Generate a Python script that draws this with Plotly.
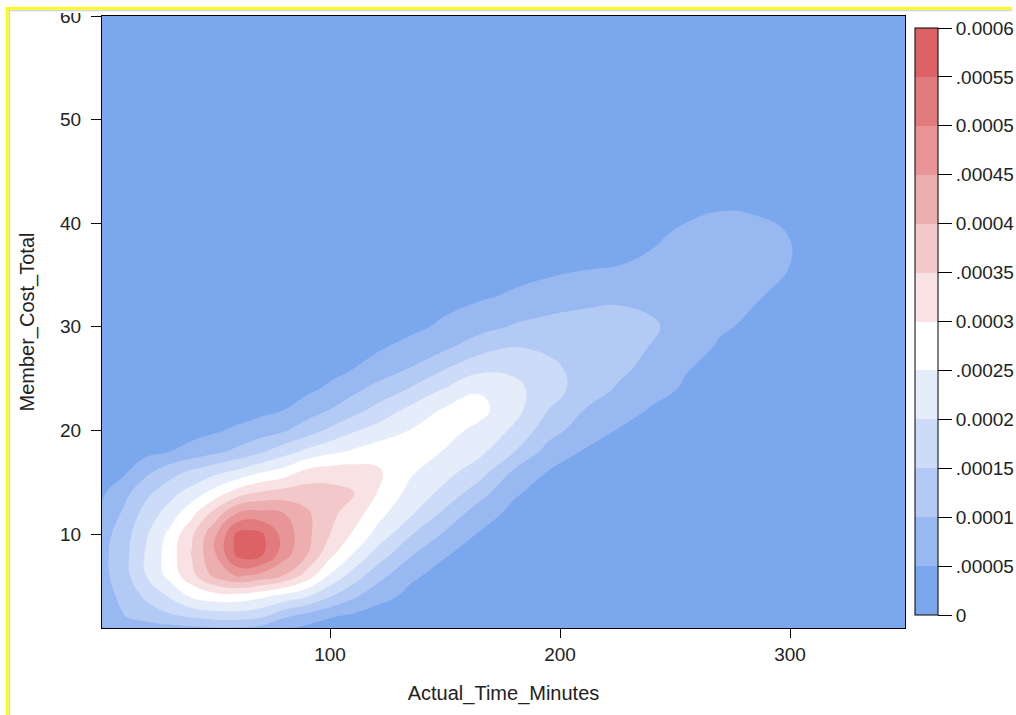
import numpy as np
import plotly.graph_objects as go

# ---- data (kernel density surface) ----
actual_time_minutes = [0, 10, 20, 30, 40, 50, 60, 70, 80, 90, 100, 110, 120, 135, 150,
                       165, 180, 195, 210, 225, 240, 255, 270, 285, 300, 320, 360]
member_cost_total = [0, 2, 4, 6, 8, 10, 12, 14, 16, 18, 20, 22, 24, 26, 28, 30, 33, 36,
                     39, 42, 46, 61]

# density values in units of 1e-5, one row per member_cost_total value
density_1e5 = [
    [3, 3.3, 3.5, 3.5, 3.5, 3.3, 3, 2.3, 1.5, 1, 0.7, 0.5, 0.4, 0.3, 0.25, 0.2, 0.2, 0.15, 0.15, 0.1, 0.1, 0.1, 0.1, 0.1, 0.1, 0.1, 0.1],
    [6.5, 9.7, 11.8, 13.8, 15.4, 16.8, 17, 15.5, 10.5, 7.5, 5.3, 3.8, 2.6, 1.7, 1.2, 0.8, 0.6, 0.5, 0.4, 0.3, 0.2, 0.2, 0.2, 0.1, 0.1, 0.1, 0.1],
    [7.5, 11.2, 16, 20.3, 25.8, 27.8, 28, 26, 23.3, 20.5, 15.4, 11, 7, 3.8, 2.3, 1.5, 1, 0.8, 0.6, 0.5, 0.4, 0.3, 0.2, 0.2, 0.2, 0.1, 0.1],
    [8, 12.8, 20, 26.5, 33.5, 41.5, 45.8, 43.5, 39.8, 32.8, 24.4, 18, 12.3, 5.8, 3.5, 2.3, 1.6, 1.2, 0.9, 0.7, 0.5, 0.4, 0.3, 0.2, 0.2, 0.2, 0.1],
    [8.2, 13, 20.5, 27.2, 35.4, 44.5, 56.5, 56, 47.1, 40, 31.3, 24.6, 18.2, 10.5, 5.3, 3.3, 2.3, 1.6, 1.2, 0.9, 0.7, 0.5, 0.4, 0.3, 0.2, 0.2, 0.1],
    [7.5, 12.4, 19.3, 26, 34.2, 44, 56.5, 56, 48, 41.3, 35, 29.4, 23.8, 15.5, 9.3, 4.6, 3.2, 2.3, 1.7, 1.2, 0.9, 0.7, 0.5, 0.4, 0.3, 0.2, 0.1],
    [5.2, 10.6, 16.9, 22, 28.5, 37, 45.5, 46.5, 45, 40.8, 36.3, 32.8, 27, 20.8, 13.8, 7.4, 3.7, 2.6, 1.9, 1.4, 1.1, 0.8, 0.6, 0.5, 0.4, 0.3, 0.2],
    [4, 8.1, 13.7, 18, 22, 26.9, 32.3, 35.6, 37, 37.5, 36.8, 35.2, 30.2, 23.4, 18.6, 12.1, 5.7, 3, 2.1, 1.6, 1.2, 0.9, 0.7, 0.5, 0.4, 0.3, 0.2],
    [2.5, 4, 8.8, 12.8, 15.9, 18.6, 21.1, 24.5, 27.1, 31.5, 32.5, 32.5, 31, 25.7, 21.7, 17.3, 9.2, 4.8, 3, 2.2, 1.7, 1.3, 1, 0.8, 0.6, 0.4, 0.2],
    [1.5, 2.5, 3.5, 4.8, 6.7, 8.8, 11.2, 14.1, 17.7, 21.1, 23.7, 25.6, 27.5, 28.3, 24.7, 21.3, 15.2, 8.2, 4.8, 3.3, 2.5, 1.9, 1.5, 1.2, 0.9, 0.6, 0.3],
    [0.8, 1.2, 1.7, 2.4, 3.3, 4.4, 5.9, 7.7, 9.5, 12.6, 16, 19.4, 21.8, 25.2, 26.4, 23.9, 19.1, 12, 7.7, 4.8, 3.6, 2.8, 2.2, 1.8, 1.4, 0.9, 0.4],
    [0.4, 0.6, 0.8, 1.1, 1.5, 2, 2.7, 3.6, 5, 7.6, 10.1, 13, 16.3, 21.3, 25.6, 26.4, 21.8, 15, 10.1, 7.2, 4.6, 3.4, 2.7, 2.2, 1.8, 1.2, 0.5],
    [0.2, 0.3, 0.4, 0.5, 0.7, 1, 1.4, 2, 2.9, 4, 5.9, 8.7, 11.4, 15.4, 20.3, 24.5, 21.4, 17.2, 13, 9.5, 6.6, 4.4, 3.4, 2.8, 2.2, 1.5, 0.6],
    [0.1, 0.15, 0.2, 0.3, 0.4, 0.5, 0.8, 1.1, 1.6, 2.3, 3.4, 4.9, 6.9, 10.2, 14.7, 18.5, 19, 16, 13.6, 11.2, 8.5, 5.2, 3.9, 3.2, 2.5, 1.7, 0.7],
    [0.1, 0.1, 0.1, 0.2, 0.2, 0.3, 0.4, 0.6, 0.9, 1.3, 2, 2.9, 4.3, 6.7, 9.2, 13, 15.2, 14.3, 12.8, 11.4, 9.8, 6.8, 4.4, 3.5, 2.8, 1.9, 0.8],
    [0.1, 0.1, 0.1, 0.1, 0.1, 0.1, 0.2, 0.3, 0.5, 0.7, 1.1, 1.6, 2.4, 3.8, 6, 8.3, 10.5, 11.8, 12.4, 12.3, 10.6, 8.1, 5.5, 4.2, 3.3, 2.2, 0.9],
    [0.05, 0.05, 0.05, 0.05, 0.1, 0.1, 0.1, 0.2, 0.3, 0.4, 0.5, 0.8, 1.2, 2, 3.1, 4.3, 5.6, 7, 8.2, 9, 8.8, 8, 6.9, 5.3, 4.1, 2.6, 1],
    [0.02, 0.02, 0.02, 0.03, 0.03, 0.05, 0.05, 0.1, 0.1, 0.2, 0.2, 0.3, 0.6, 1, 1.6, 2.3, 3, 3.6, 4.3, 4.9, 5.6, 6.3, 6.8, 6.5, 5.0, 2.9, 1.1],
    [0.01, 0.01, 0.01, 0.01, 0.02, 0.02, 0.03, 0.04, 0.05, 0.08, 0.1, 0.2, 0.3, 0.5, 0.8, 1.2, 1.6, 2.1, 2.7, 3.4, 4.4, 5.6, 6.3, 6.0, 4.9, 2.7, 0.9],
    [0.01, 0.01, 0.01, 0.01, 0.01, 0.01, 0.01, 0.02, 0.02, 0.03, 0.05, 0.1, 0.15, 0.25, 0.4, 0.6, 0.8, 1.1, 1.5, 2, 2.9, 3.9, 4.5, 4.3, 3.2, 1.7, 0.5],
    [0.01, 0.01, 0.01, 0.01, 0.01, 0.01, 0.01, 0.01, 0.01, 0.01, 0.02, 0.03, 0.05, 0.08, 0.1, 0.15, 0.2, 0.3, 0.4, 0.6, 0.9, 1.2, 1.4, 1.3, 1.0, 0.5, 0.2],
    [0.01] * 27,
]

level_values = [0, 0.00005, 0.0001, 0.00015, 0.0002, 0.00025, 0.0003, 0.00035,
                0.0004, 0.00045, 0.0005, 0.00055, 0.0006]
level_labels = ["0", ".00005", "0.0001", ".00015", "0.0002", ".00025", "0.0003",
                ".00035", "0.0004", ".00045", "0.0005", ".00055", "0.0006"]
band_colors = ["#7BA7EC", "#97B8F0", "#B2CAF4", "#CCDBF7", "#E5EDFB", "#FFFFFF",
               "#F8E2E3", "#F3C8CA", "#EDAEB0", "#E89597", "#E27B7E", "#DD6265"]

density = (np.array(density_1e5) * 1e-5).tolist()

# contour fill colour map (plotly samples the scale at level + size/2)
n_lv = len(level_values)
contour_scale = [[0.0, band_colors[0]]]
for k, c in enumerate(band_colors):
    contour_scale.append([(k + 1) / n_lv, c])
contour_scale.append([1.0, band_colors[-1]])

# stepwise scale for the legend colour bar (12 equal bands)
nb = len(band_colors)
step_scale = []
for k, c in enumerate(band_colors):
    step_scale.append([k / nb, c])
    step_scale.append([(k + 1) / nb, c])

FONT = "Liberation Sans, Arial, sans-serif"
TXT = "#222222"

fig = go.Figure()
# same surface as an invisible heatmap; it only supplies the discrete colour bar
fig.add_trace(go.Heatmap(
    x=actual_time_minutes, y=member_cost_total, z=density,
    zmin=level_values[0], zmax=level_values[-1], colorscale=step_scale,
    opacity=0, hoverinfo="skip",
    colorbar=dict(
        x=1.0125, xanchor="left", xpad=0, y=0.5008, yanchor="middle", ypad=0,
        len=587, lenmode="pixels", thickness=23, thicknessmode="pixels",
        outlinewidth=1, outlinecolor="#000000",
        tickvals=level_values, ticktext=level_labels,
        ticks="outside", ticklen=14, tickcolor="#000000", tickwidth=1,
        tickfont=dict(family=FONT, size=19, color=TXT),
    ),
))
fig.add_trace(go.Contour(
    x=actual_time_minutes, y=member_cost_total, z=density,
    colorscale=contour_scale, showscale=False,
    contours=dict(start=level_values[0], end=level_values[-1],
                  size=level_values[1] - level_values[0], coloring="fill"),
    line=dict(width=0, smoothing=1.3),
    hoverinfo="skip",
))

fig.update_layout(
    width=1016, height=715,
    margin=dict(l=102, r=111, t=16, b=87, autoexpand=False),
    paper_bgcolor="white", plot_bgcolor=band_colors[0],
    font=dict(family=FONT, size=19, color=TXT),
    xaxis=dict(
        range=[0.87, 350], tickvals=[100, 200, 300], ticks="outside", ticklen=9,
        tickcolor="#000000", showline=True, linecolor="#000000", linewidth=1,
        mirror=True, showgrid=False, zeroline=False, automargin=False,
        tickfont=dict(family=FONT, size=19, color=TXT),
        title=dict(text="Actual_Time_Minutes", font=dict(family=FONT, size=20, color=TXT), standoff=22),
    ),
    yaxis=dict(
        range=[0.93, 60], tickvals=[10, 20, 30, 40, 50, 60], ticks="outside", ticklen=10,
        tickcolor="#000000", showline=True, linecolor="#000000", linewidth=1,
        mirror=True, showgrid=False, zeroline=False, automargin=False,
        ticklabelstandoff=6,
        tickfont=dict(family=FONT, size=19, color=TXT),
        title=dict(text="Member_Cost_Total", font=dict(family=FONT, size=20, color=TXT), standoff=20),
    ),
)

# frame decoration of the screenshot (white top strip, grey + yellow border)
def px_x(px):
    return (px - 102) / 803.0

def px_y(py):
    return (628 - py) / 612.0

frame = [
    (px_x(-10), px_y(13), px_x(1030), px_y(-10), "#FFFFFF"),
    (px_x(8), px_y(11.2), px_x(1012), px_y(9.5), "#D4D4D4"),
    (px_x(8.5), px_y(720), px_x(10), px_y(9.5), "#D4D4D4"),
    (px_x(6), px_y(9.5), px_x(1012), px_y(7), "#FFFF00"),
    (px_x(6), px_y(720), px_x(8.5), px_y(7), "#FFFF00"),
]
for x0, y0, x1, y1, col in frame:
    fig.add_shape(type="rect", xref="paper", yref="paper", x0=x0, y0=y0, x1=x1, y1=y1,
                  fillcolor=col, line=dict(width=0), layer="above")

fig.write_html("out.html", config={"displayModeBar": False},
               post_script="document.body.style.margin='0px';document.body.style.overflow='hidden';")
